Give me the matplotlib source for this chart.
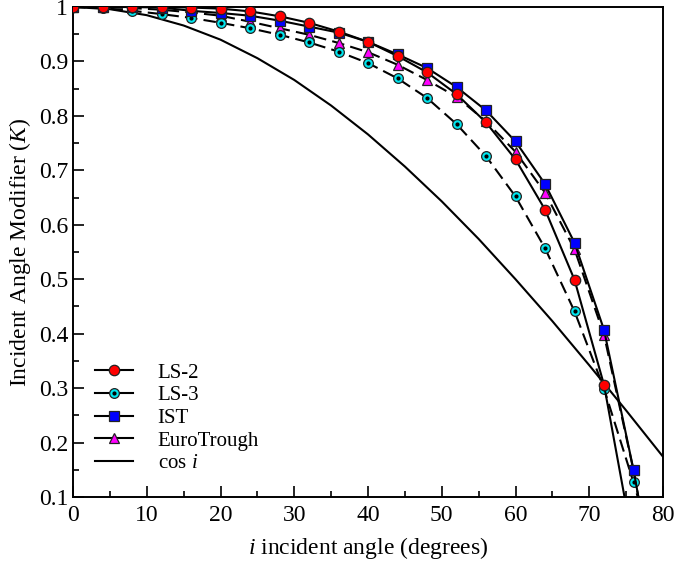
import matplotlib
matplotlib.use("Agg")
import matplotlib.pyplot as plt
from matplotlib.lines import Line2D
from matplotlib.legend_handler import HandlerTuple

plt.rcParams['font.family'] = ['Liberation Serif', 'DejaVu Serif']
plt.rcParams['mathtext.fontset'] = 'custom'
plt.rcParams['mathtext.rm'] = 'Liberation Serif'
plt.rcParams['mathtext.it'] = 'Liberation Serif:italic'

# Incident angles (degrees) of the fitted points
angles = [0, 4, 8, 12, 16, 20, 24, 28, 32, 36, 40, 44, 48, 52, 56, 60, 64, 68, 72, 76, 80]

ls2 = [1.0, 1.0, 1.0, 1.0, 0.999, 0.997, 0.992, 0.983, 0.971, 0.955, 0.936, 0.910,
       0.880, 0.840, 0.788, 0.720, 0.628, 0.499, 0.306, 0.01, -0.35]
ls3 = [1.0, 0.998, 0.993, 0.987, 0.980, 0.971, 0.961, 0.949, 0.935, 0.918, 0.897, 0.869,
       0.833, 0.785, 0.726, 0.652, 0.557, 0.441, 0.299, 0.127, -0.06]
ist = [1.0, 1.0, 1.0, 0.999, 0.993, 0.989, 0.984, 0.975, 0.964, 0.953, 0.936, 0.913,
       0.888, 0.853, 0.810, 0.753, 0.675, 0.567, 0.407, 0.150, -0.15]
euro = [1.0, 1.0, 0.998, 0.995, 0.990, 0.984, 0.973, 0.961, 0.949, 0.934, 0.917, 0.894,
        0.866, 0.835, 0.790, 0.734, 0.659, 0.555, 0.398, 0.149, -0.15]

cos_angles = [0, 5, 10, 15, 20, 25, 30, 35, 40, 45, 50, 55, 60, 65, 70, 75, 80]
cos_vals = [1.0, 0.996, 0.985, 0.966, 0.940, 0.906, 0.866, 0.819, 0.766, 0.707, 0.643,
            0.574, 0.500, 0.423, 0.342, 0.259, 0.174]

labels = ['LS-2', 'LS-3', 'IST', 'EuroTrough', r'cos $i$']

fig = plt.figure(figsize=(6.78, 5.64), dpi=100)
ax = fig.add_axes([73/678, 1-497/564, 590/678, 490/564])

lw = 1.5
mec = '#222222'
dash = (0, (6, 3))

styles = {
    'euro': dict(marker='^', ms=7.5, mfc='#ff00ff', mec=mec, mew=0.9),
    'ls3': dict(marker='o', ms=7, mfc='#00e5ee', mec=mec, mew=0.9),
    'ist': dict(marker='s', ms=7, mfc='#0000ff', mec=mec, mew=0.9),
    'ls2': dict(marker='o', ms=7.5, mfc='#ff0000', mec=mec, mew=0.9),
}
dot = dict(marker='o', ms=2, mfc='black', mec='black', ls='none')

ax.plot(cos_angles, cos_vals, color='black', lw=lw, zorder=1)
ax.plot(angles, euro, color='black', lw=lw, ls=dash, zorder=2, **styles['euro'])
ax.plot(angles, ls3, color='black', lw=lw, ls=dash, zorder=3, **styles['ls3'])
ax.plot(angles, ls3, zorder=3.1, **dot)
ax.plot(angles, ist, color='black', lw=lw, zorder=4, **styles['ist'])
ax.plot(angles, ls2, color='black', lw=lw, zorder=5, **styles['ls2'])

ax.set_xlim(0, 80)
ax.set_ylim(0.1, 1.0)
ax.set_xticks(range(0, 81, 10))
ax.set_xticks(range(5, 80, 10), minor=True)
yt = [0.1, 0.2, 0.3, 0.4, 0.5, 0.6, 0.7, 0.8, 0.9, 1.0]
ax.set_yticks(yt)
ax.set_yticklabels(['0.1', '0.2', '0.3', '0.4', '0.5', '0.6', '0.7', '0.8', '0.9', '1'])
ax.set_yticks([0.15, 0.25, 0.35, 0.45, 0.55, 0.65, 0.75, 0.85, 0.95], minor=True)
ax.tick_params(which='both', direction='in', top=False, right=False, labelsize=17,
               width=1.2, color='black')
ax.tick_params(which='major', length=8)
ax.tick_params(which='minor', length=4.5)
ax.tick_params(axis='x', pad=6)
for s in ax.spines.values():
    s.set_linewidth(1.4)

ax.set_xlabel(r'$i$ incident angle (degrees)', fontsize=17, labelpad=6)
ax.set_ylabel(r'Incident Angle Modifier ($K$)', fontsize=17, labelpad=4)

# legend proxies: all drawn with solid lines as in the reference
p_ls2 = Line2D([], [], color='black', lw=lw, **styles['ls2'])
p_ls3 = Line2D([], [], color='black', lw=lw, **styles['ls3'])
p_ls3d = Line2D([], [], **dot)
p_ist = Line2D([], [], color='black', lw=lw, **styles['ist'])
p_euro = Line2D([], [], color='black', lw=lw, **styles['euro'])
p_cos = Line2D([], [], color='black', lw=lw)

leg = ax.legend([p_ls2, (p_ls3, p_ls3d), p_ist, p_euro, p_cos], labels,
                handler_map={tuple: HandlerTuple(ndivide=1, pad=0)},
                loc='upper left', bbox_to_anchor=(95/678, 1-363/564),
                bbox_transform=fig.transFigure, frameon=False, fontsize=15,
                handlelength=1.8, handletextpad=1.2, labelspacing=0.15,
                borderpad=0, borderaxespad=0)

fig.savefig('out.png', dpi=100)
